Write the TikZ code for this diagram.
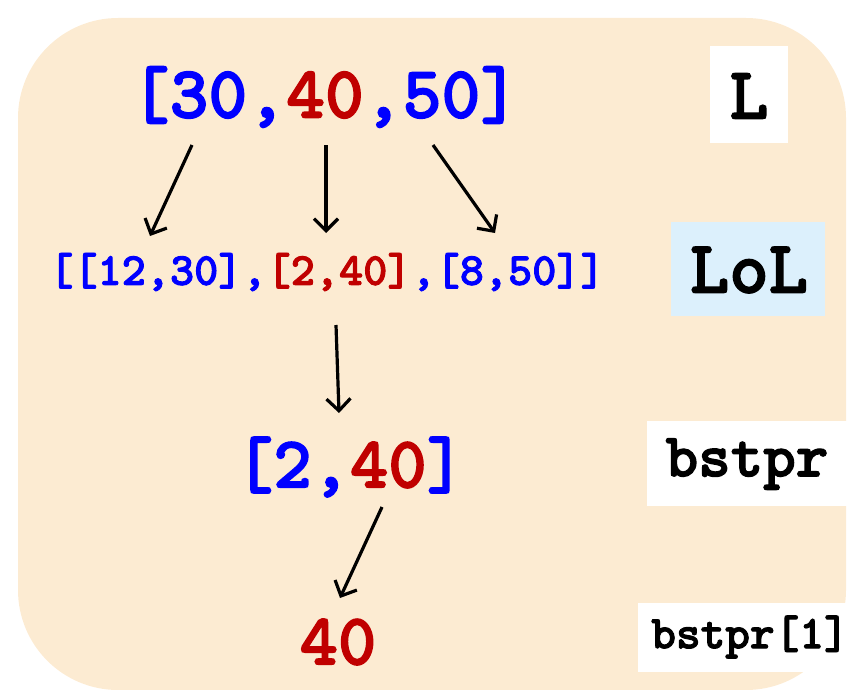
\documentclass[tikz,border=0pt]{standalone}
\usepackage{fontspec}
\newfontfamily\cour{lmmonolt10-bold.otf}[FakeBold=2]
\usetikzlibrary{arrows.meta}
\definecolor{bgbeige}{HTML}{FCEBD2}
\definecolor{lblue}{HTML}{DCF0FC}
\definecolor{dred}{HTML}{C00000}
\definecolor{pblue}{HTML}{0000FF}
\newcommand{\fs}[1]{\fontsize{#1}{#1}\selectfont}
\tikzset{
  txt/.style={inner sep=0pt, anchor=center, font=\cour},
  lbl/.style={inner sep=0pt, anchor=center, font=\cour, text=black},
  arr/.style={line width=3.2pt, -{Straight Barb[length=12pt,width=24pt,line width=3.2pt]}},
}
\begin{document}
\begin{tikzpicture}[x=1pt,y=-1pt]
\useasboundingbox (0,0) rectangle (848,690);
\fill[bgbeige, rounded corners=100pt] (18,18) rectangle (846,690);
% label boxes
\fill[white] (710,46) rectangle (788,143);
\fill[lblue] (671,222) rectangle (825,316);
\fill[white] (647,421) rectangle (848,506);
\fill[white] (638,603) rectangle (848,672);
\node[lbl] (lL) at (749,96) {\fs{74}L};
\node[lbl] (lLoL) at (749,270) {\fs{75}LoL};
\node[lbl] (lbst) at (747,464) {\fs{62}bstpr};
\node[lbl] (lbst1) at (750,637) {\fs{47}bstpr[1]};
% main texts
\node[txt] (top) at (325,97) {\fs{74}\textcolor{pblue}{[30,}\textcolor{dred}{40}\textcolor{pblue}{,50]}};
\node[txt] (lol) at (327,272) {\fs{46}\textcolor{pblue}{[[12,30],}\textcolor{dred}{[2,40]}\textcolor{pblue}{,[8,50]]}};
\node[txt] (pair) at (350,467) {\fs{73}\textcolor{pblue}{[2,}\textcolor{dred}{40}\textcolor{pblue}{]}};
\node[txt] (val) at (338,642) {\fs{73}\textcolor{dred}{40}};
% arrow ends
\coordinate (a1s) at (192,145); \coordinate (a1e) at (150,236);
\coordinate (a2s) at (326,145); \coordinate (a2e) at (326,233);
\coordinate (a3s) at (433,145); \coordinate (a3e) at (495,233);
\coordinate (a4s) at (336,325); \coordinate (a4e) at (339,413);
\coordinate (a5s) at (382,507); \coordinate (a5e) at (340,598);
\draw[arr] (a1s) -- (a1e);
\draw[arr] (a2s) -- (a2e);
\draw[arr] (a3s) -- (a3e);
\draw[arr] (a4s) -- (a4e);
\draw[arr] (a5s) -- (a5e);
\end{tikzpicture}
\end{document}
